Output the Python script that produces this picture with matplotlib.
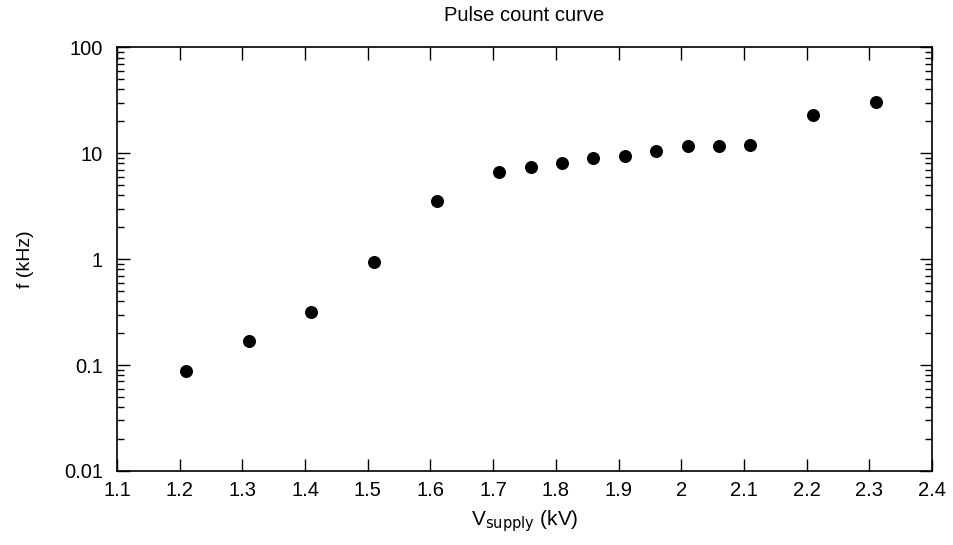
import matplotlib
matplotlib.use("Agg")
import matplotlib.pyplot as plt
import matplotlib.ticker as mticker
import numpy as np

plt.rcParams["font.family"] = ["Liberation Sans", "DejaVu Sans"]

# supply voltage (kV) and pulse rate (kHz)
voltage = [1.21, 1.31, 1.41, 1.51, 1.61, 1.71, 1.76, 1.81, 1.86, 1.91,
           1.96, 2.01, 2.06, 2.11, 2.21, 2.31]
rate = [0.088, 0.168, 0.32, 0.94, 3.5, 6.6, 7.4, 8.0, 9.0, 9.4,
        10.4, 11.6, 11.7, 11.9, 22.8, 30.3]

x_ticks = [1.1, 1.2, 1.3, 1.4, 1.5, 1.6, 1.7, 1.8, 1.9, 2.0, 2.1, 2.2, 2.3, 2.4]
x_labels = ["1.1", "1.2", "1.3", "1.4", "1.5", "1.6", "1.7", "1.8", "1.9",
            "2", "2.1", "2.2", "2.3", "2.4"]
y_ticks = [0.01, 0.1, 1, 10, 100]
y_labels = ["0.01", "0.1", "1", "10", "100"]

fig = plt.figure(figsize=(9.54, 5.45), dpi=100)
ax = fig.add_axes([0.1226, 0.1358, 0.8544, 0.7775])

ax.scatter(voltage, rate, s=70, color="black", zorder=3)

ax.set_yscale("log")
ax.set_xlim(1.1, 2.4)
ax.set_ylim(0.01, 100)

ax.set_xticks(x_ticks)
ax.set_xticklabels(x_labels)
ax.set_yticks(y_ticks)
ax.set_yticklabels(y_labels)
ax.yaxis.set_minor_locator(mticker.LogLocator(base=10, subs=np.arange(2, 10)))
ax.yaxis.set_minor_formatter(mticker.NullFormatter())

ax.tick_params(which="both", direction="in", top=True, right=True,
               labelsize=14.5)
ax.tick_params(axis="x", pad=7)
ax.tick_params(axis="y", pad=10)
ax.tick_params(which="major", length=9, width=1)
ax.tick_params(which="minor", length=5, width=1)
for sp in ax.spines.values():
    sp.set_linewidth(1.2)

ax.set_title("Pulse count curve", fontsize=14.5, pad=19)
ax.set_xlabel(r"V$_{\mathrm{supply}}$ (kV)", fontsize=15, labelpad=6)
ax.set_ylabel("f (kHz)", fontsize=14, labelpad=22)

fig.savefig("out.png", dpi=100)
